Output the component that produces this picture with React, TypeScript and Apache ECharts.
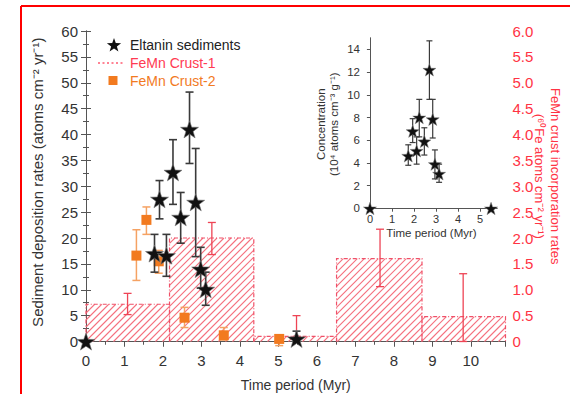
import React, { useEffect, useRef } from 'react';
import * as echarts from 'echarts';

// ---------- data ----------
const STAR = 'path://M50 0 L61.76 33.8 L97.55 34.55 L69 56.2 L79.4 90.45 L50 70 L20.6 90.45 L31 56.2 L2.45 34.55 L38.24 33.8 Z';

// Eltanin sediments (main, left axis)
const eltaninX = [0, 1.78, 1.91, 2.09, 2.26, 2.46, 2.69, 2.85, 2.98, 3.11, 5.47];
const eltaninRate = [0, 17.0, 27.5, 16.6, 32.7, 24.0, 41.0, 26.9, 14.0, 10.1, 0.5];
const eltaninLo = [null, 13.4, 23.7, 12.6, 26.5, 19.0, 34.4, 16.4, 10.3, 7.0, 0];
const eltaninHi = [null, 20.7, 31.1, 20.7, 39.0, 28.8, 48.2, 37.3, 18.2, 13.4, 2.0];

// FeMn Crust-2 (main, left axis)
const crust2X = [1.31, 1.57, 1.89, 2.56, 3.58, 5.02];
const crust2Rate = [16.6, 23.5, 15.5, 4.6, 1.2, 0.5];
const crust2Lo = [11.8, 20.7, 13.2, 2.7, 0.3, -0.8];
const crust2Hi = [21.6, 26.0, 17.6, 6.6, 2.7, 0.9];

// FeMn Crust-1 (main, right axis) — step bars and error bars
const crust1Edges = [0, 2.17, 4.36, 6.51, 8.73, 10.9];
const crust1Rate = [0.72, 2.0, 0.1, 1.6, 0.48];
const crust1ErrX = [1.08, 3.27, 5.47, 7.64, 9.8];
const crust1ErrLo = [0.52, 1.68, 0.1, 1.06, 0];
const crust1ErrHi = [0.93, 2.3, 0.5, 2.17, 1.31];

// Inset: concentration
const insetX = [0, 1.74, 1.94, 2.12, 2.24, 2.47, 2.7, 2.85, 2.95, 3.14, 5.5];
const insetConc = [0, 4.63, 6.8, 5.07, 8.0, 5.9, 12.2, 7.85, 3.9, 3.05, 0];
const insetLo = [null, 3.8, 5.8, 3.9, 6.3, 4.7, 9.6, 6.2, 2.6, 2.3, null];
const insetHi = [null, 5.6, 7.9, 6.3, 9.6, 7.1, 14.75, 9.6, 5.15, 3.9, null];

const mainXTicks = [0, 1, 2, 3, 4, 5, 6, 7, 8, 9, 10];
const insetXTicks = [0, 1, 2, 3, 4, 5];
const insetYTicks = [0, 2, 4, 6, 8, 10, 12, 14];

// ---------- styles ----------
const FONT = 'Liberation Sans';
const TXT = '#333';
const AXIS = '#555';
const RED = '#ff3344';
const HATCH = '#f5707e';
const OUTLINE = '#f05068';
const RED_ERR = '#ee4455';
const ORANGE = '#f27a1f';
const ORANGE_ERR = '#f5a263';
const BLACK_ERR = '#3a3a3a';

function errRender(color: string, cap: number, width: number) {
  return (params: any, api: any) => {
    const x = api.value(0);
    const lo = api.value(1);
    const hi = api.value(2);
    if (lo == null || hi == null || isNaN(lo) || isNaN(hi)) return null;
    const a = api.coord([x, lo]);
    const b = api.coord([x, hi]);
    const h = cap / 2;
    const st = { stroke: color, lineWidth: width };
    return {
      type: 'group',
      children: [
        { type: 'line', shape: { x1: a[0], y1: a[1], x2: b[0], y2: b[1] }, style: st },
        { type: 'line', shape: { x1: a[0] - h, y1: a[1], x2: a[0] + h, y2: a[1] }, style: st },
        { type: 'line', shape: { x1: b[0] - h, y1: b[1], x2: b[0] + h, y2: b[1] }, style: st },
      ],
    };
  };
}

function hatchRender(params: any, api: any) {
  const x0 = api.value(0);
  const x1 = api.value(1);
  const v = api.value(2);
  const tl = api.coord([x0, v]);
  const br = api.coord([x1, 0]);
  const left = tl[0], right = br[0], top = tl[1], bottom = br[1];
  const step = 7;
  const children: any[] = [];
  const cStart = Math.ceil((left + top) / step) * step;
  for (let c = cStart; c <= right + bottom; c += step) {
    const xa = Math.max(left, c - bottom);
    const xb = Math.min(right, c - top);
    if (xb > xa) {
      children.push({
        type: 'line',
        shape: { x1: xa, y1: c - xa, x2: xb, y2: c - xb },
        style: { stroke: HATCH, lineWidth: 1.1 },
      });
    }
  }
  children.push({
    type: 'polyline',
    shape: { points: [[left, bottom], [left, top], [right, top], [right, bottom]] },
    style: { stroke: OUTLINE, lineWidth: 1.2, lineDash: [4, 2, 1, 2], fill: null },
  });
  return { type: 'group', children };
}

function starPts(cx: number, cy: number, R: number) {
  const pts: number[][] = [];
  for (let i = 0; i < 10; i++) {
    const r = i % 2 === 0 ? R : R * 0.4;
    const a = -Math.PI / 2 + (i * Math.PI) / 5;
    pts.push([cx + r * Math.cos(a), cy + r * Math.sin(a)]);
  }
  return pts;
}

export default function App() {
  const ref = useRef<HTMLDivElement>(null);

  useEffect(() => {
    if (!ref.current) return;
    const chart = echarts.init(ref.current, null, { renderer: 'svg' });

    const crust1Bars = crust1Rate.map((v, i) => [crust1Edges[i], crust1Edges[i + 1], v]);
    const crust1Err = crust1ErrX.map((x, i) => [x, crust1ErrLo[i], crust1ErrHi[i]]);
    const crust2Err = crust2X.map((x, i) => [x, crust2Lo[i], crust2Hi[i]]);
    const crust2Pts = crust2X.map((x, i) => [x, crust2Rate[i]]);
    const eltErr = eltaninX.map((x, i) => [x, eltaninLo[i], eltaninHi[i]]).filter((d) => d[1] != null);
    const eltPts = eltaninX.map((x, i) => [x, eltaninRate[i]]);
    const insErr = insetX.map((x, i) => [x, insetLo[i], insetHi[i]]).filter((d) => d[1] != null);
    const insPts = insetX.map((x, i) => [x, insetConc[i]]);

    const tickLabel = { fontFamily: FONT, fontSize: 15, color: TXT };

    const option: any = {
      animation: false,
      textStyle: { fontFamily: FONT },
      grid: [
        { left: 86, right: 64.5, top: 31, bottom: 52.5, containLabel: false, outerBoundsMode: 'none' },
        { left: 366, top: 38, width: 131, height: 172.5, containLabel: false, outerBoundsMode: 'none' },
      ],
      xAxis: [
        {
          type: 'value', gridIndex: 0, min: 0, max: 10.9, interval: 1,
          axisLine: { lineStyle: { color: AXIS } },
          axisTick: { length: 5, lineStyle: { color: AXIS } },
          minorTick: { show: true, splitNumber: 2, length: 3, lineStyle: { color: AXIS } },
          axisLabel: { ...tickLabel, margin: 11, showMaxLabel: false,
            formatter: (v: number) => (mainXTicks.indexOf(v) >= 0 ? String(v) : '') },
          splitLine: { show: false },
          name: 'Time period (Myr)', nameLocation: 'middle', nameGap: 36, nameMoveOverlap: false,
          nameTextStyle: { fontFamily: FONT, fontSize: 14, color: TXT },
        },
        {
          type: 'value', gridIndex: 0, position: 'top', min: 0, max: 10.9, interval: 1,
          axisLine: { lineStyle: { color: AXIS } },
          axisTick: { inside: true, length: 5, lineStyle: { color: AXIS } },
          minorTick: { show: true, splitNumber: 2, length: 3, lineStyle: { color: AXIS } },
          axisLabel: { show: false },
          splitLine: { show: false },
        },
        {
          type: 'value', gridIndex: 1, min: -0.18, max: 5.77,
          axisLine: { lineStyle: { color: AXIS } },
          axisTick: { length: 3, customValues: insetXTicks, lineStyle: { color: AXIS } },
          axisLabel: { fontFamily: FONT, fontSize: 11, color: TXT, margin: 3, customValues: insetXTicks },
          splitLine: { show: false },
          name: 'Time period (Myr)', nameLocation: 'middle', nameGap: 16, nameMoveOverlap: false,
          nameTextStyle: { fontFamily: FONT, fontSize: 11.5, color: TXT },
        },
        {
          type: 'value', gridIndex: 1, position: 'top', min: -0.18, max: 5.77,
          axisLine: { lineStyle: { color: AXIS } },
          axisTick: { inside: true, length: 3, customValues: insetXTicks, lineStyle: { color: AXIS } },
          axisLabel: { show: false },
          splitLine: { show: false },
        },
      ],
      yAxis: [
        {
          type: 'value', gridIndex: 0, min: 0, max: 60, interval: 5,
          axisLine: { show: true, lineStyle: { color: AXIS } },
          axisTick: { show: true, length: 5, lineStyle: { color: AXIS } },
          minorTick: { show: true, splitNumber: 2, length: 3, lineStyle: { color: AXIS } },
          axisLabel: { ...tickLabel, margin: 8 },
          splitLine: { show: false },
          name: 'Sediment deposition rates (atoms cm⁻² yr⁻¹)', nameLocation: 'middle', nameGap: 41,
          nameMoveOverlap: false,
          nameTextStyle: { fontFamily: FONT, fontSize: 15, color: TXT, padding: [0, 0, 0, 8] },
        },
        {
          type: 'value', gridIndex: 0, position: 'right', min: 0, max: 6, interval: 0.5,
          axisLine: { show: true, lineStyle: { color: AXIS } },
          axisTick: { show: true, length: 5, lineStyle: { color: AXIS } },
          minorTick: { show: true, splitNumber: 2, length: 3, lineStyle: { color: AXIS } },
          axisLabel: { fontFamily: FONT, fontSize: 15, color: RED, margin: 7,
            formatter: (v: number) => (v === 0 ? '0' : v.toFixed(1)) },
          splitLine: { show: false },
          name: 'FeMn crust incorporation rates\n(⁶⁰Fe atoms cm⁻² yr⁻¹)', nameLocation: 'middle',
          nameGap: 26, nameRotate: -90, nameMoveOverlap: false,
          nameTextStyle: { fontFamily: FONT, fontSize: 13, color: RED, lineHeight: 16, padding: [0, 20, 0, 0] },
        },
        {
          type: 'value', gridIndex: 1, min: -0.18, max: 15,
          axisLine: { show: true, lineStyle: { color: AXIS } },
          axisTick: { show: true, length: 3, customValues: insetYTicks, lineStyle: { color: AXIS } },
          axisLabel: { fontFamily: FONT, fontSize: 11.5, color: TXT, margin: 6, customValues: insetYTicks },
          splitLine: { show: false },
          name: 'Concentration\n(10⁴ atoms cm⁻³ g⁻¹)', nameLocation: 'middle', nameGap: 26,
          nameMoveOverlap: false,
          nameTextStyle: { fontFamily: FONT, fontSize: 11.5, color: TXT, lineHeight: 13 },
        },
        {
          type: 'value', gridIndex: 1, position: 'right', min: -0.18, max: 15,
          axisLine: { show: true, lineStyle: { color: AXIS } },
          axisTick: { show: true, inside: true, length: 3, customValues: insetYTicks, lineStyle: { color: AXIS } },
          axisLabel: { show: false },
          splitLine: { show: false },
        },
      ],
      series: [
        {
          name: 'FeMn Crust-1', type: 'custom', xAxisIndex: 0, yAxisIndex: 1,
          renderItem: hatchRender, data: crust1Bars, encode: { x: [0, 1], y: 2 }, z: 1,
        },
        {
          name: 'FeMn Crust-1 err', type: 'custom', xAxisIndex: 0, yAxisIndex: 1,
          renderItem: errRender(RED_ERR, 8, 1.3), data: crust1Err, encode: { x: 0, y: [1, 2] }, z: 2,
        },
        {
          name: 'FeMn Crust-2 err', type: 'custom', xAxisIndex: 0, yAxisIndex: 0,
          renderItem: errRender(ORANGE_ERR, 8, 1.5), data: crust2Err, encode: { x: 0, y: [1, 2] }, z: 3,
        },
        {
          name: 'FeMn Crust-2', type: 'scatter', xAxisIndex: 0, yAxisIndex: 0,
          symbol: 'rect', symbolSize: 10, itemStyle: { color: ORANGE, opacity: 1 }, data: crust2Pts, z: 4,
        },
        {
          name: 'Eltanin err', type: 'custom', xAxisIndex: 0, yAxisIndex: 0,
          renderItem: errRender(BLACK_ERR, 8, 1.6), data: eltErr, encode: { x: 0, y: [1, 2] }, z: 5,
        },
        {
          name: 'Eltanin sediments', type: 'scatter', xAxisIndex: 0, yAxisIndex: 0,
          symbol: STAR, symbolSize: 18, symbolKeepAspect: true,
          itemStyle: { color: '#111', borderColor: '#777', borderWidth: 0.6, opacity: 1 },
          data: eltPts, z: 6,
        },
        {
          name: 'Inset err', type: 'custom', xAxisIndex: 2, yAxisIndex: 2,
          renderItem: errRender(BLACK_ERR, 6, 1.2), data: insErr, encode: { x: 0, y: [1, 2] }, z: 7,
        },
        {
          name: 'Inset', type: 'scatter', xAxisIndex: 2, yAxisIndex: 2,
          symbol: STAR, symbolSize: 13, symbolKeepAspect: true,
          itemStyle: { color: '#111', borderColor: '#777', borderWidth: 0.5, opacity: 1 },
          data: insPts, z: 8,
        },
      ],
      graphic: [
        { type: 'line', shape: { x1: 21, y1: 6, x2: 570, y2: 6 }, style: { stroke: '#ff0000', lineWidth: 2 } },
        { type: 'line', shape: { x1: 21, y1: 6, x2: 21, y2: 394 }, style: { stroke: '#ff0000', lineWidth: 2 } },
        { type: 'polygon', shape: { points: starPts(114, 45.5, 7.5) }, style: { fill: '#111' } },
        { type: 'text', x: 130, y: 45, style: { text: 'Eltanin sediments', fill: '#222', font: `14px "${FONT}"`, textVerticalAlign: 'middle' } },
        { type: 'line', shape: { x1: 98, y1: 63, x2: 124, y2: 63 }, style: { stroke: '#ff5a70', lineWidth: 1.3, lineDash: [2, 2.5] } },
        { type: 'text', x: 130, y: 63, style: { text: 'FeMn Crust-1', fill: '#ff3a52', font: `14px "${FONT}"`, textVerticalAlign: 'middle' } },
        { type: 'rect', shape: { x: 108.5, y: 76, width: 9, height: 9 }, style: { fill: ORANGE } },
        { type: 'text', x: 130, y: 81, style: { text: 'FeMn Crust-2', fill: ORANGE, font: `14px "${FONT}"`, textVerticalAlign: 'middle' } },
      ],
    };

    chart.setOption(option);
    return () => chart.dispose();
  }, []);

  return <div ref={ref} style={{ width: 570, height: 394, position: 'absolute', left: 0, top: 0, background: '#fff' }} />;
}
